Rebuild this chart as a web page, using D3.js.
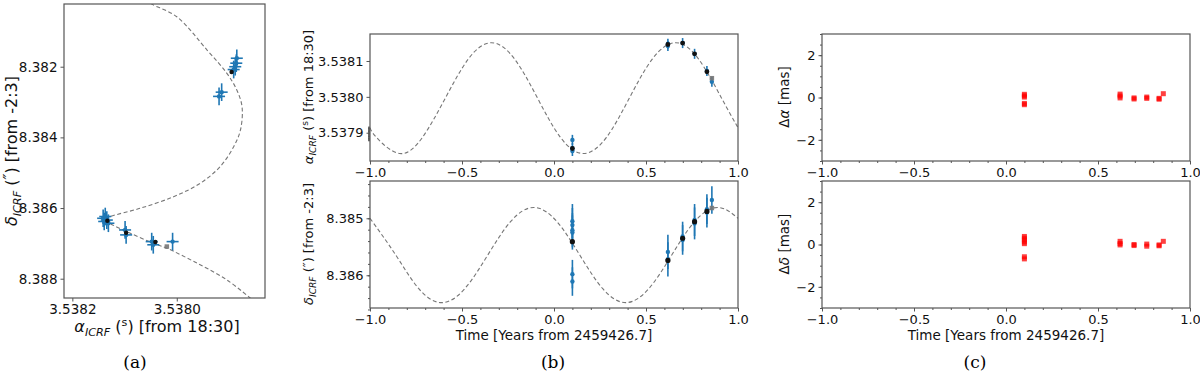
<!DOCTYPE html>
<html>
<head>
<meta charset="utf-8">
<script src="https://cdn.jsdelivr.net/npm/d3@7"></script>
<style>
  body { margin: 0; background: #fff; }
  svg { font-family: "DejaVu Sans", sans-serif; }
  .caption { font-family: "DejaVu Serif", "Liberation Serif", serif; font-size: 17px; }
</style>
</head>
<body>
<svg id="fig" width="1200" height="377"></svg>
<script>
// ---- panel (a): sky track, model curve
var skyCurveRa = [3.538060, 3.538048, 3.538000, 3.537942, 3.537904, 3.537885, 3.537875, 3.537878,
  3.537891, 3.537917, 3.537955, 3.538006, 3.538070, 3.538128, 3.538139, 3.538128, 3.538089,
  3.538045, 3.538019, 3.537961, 3.537904, 3.537855];
var skyCurveDec = [8.380100, 8.380226, 8.380586, 8.381528, 8.382187, 8.382659, 8.383132, 8.383791,
  8.384263, 8.384829, 8.385299, 8.385678, 8.386006, 8.386243, 8.386323, 8.386436, 8.386713,
  8.386996, 8.387137, 8.387562, 8.388034, 8.388600];

// observed positions (blue crosses)
var skyObsRa  = [3.537885, 3.537886, 3.537888, 3.537891, 3.537914, 3.537919,
  3.538141, 3.538137, 3.538134, 3.538131, 3.538139, 3.538099, 3.538097, 3.538048, 3.538045, 3.538008];
var skyObsDec = [8.381760, 8.381900, 8.382000, 8.382080, 8.382720, 8.382840,
  8.386290, 8.386240, 8.386340, 8.386430, 8.386380, 8.386620, 8.386760, 8.386950, 8.387040, 8.386950];
var skyRaErr = 0.0000115;
var skyDecErr = 0.00025;

// model positions at epochs (black) and predicted (grey)
var skyModelRa  = [3.537895, 3.538133, 3.538097, 3.538041];
var skyModelDec = [8.382150, 8.386360, 8.386700, 8.386960];
var skyPredRa  = [3.538019];
var skyPredDec = [8.387090];

// ---- panel (b): time series
var raCurveTime = [-1.0, -0.965, -0.84, -0.715, -0.59, -0.465, -0.34, -0.215, -0.09, 0.035,
  0.16, 0.285, 0.41, 0.535, 0.66, 0.785, 0.91, 1.0];
var raCurve = [3.537914, 3.537887, 3.537842, 3.537887, 3.537997, 3.538106, 3.538151, 3.538106,
  3.537997, 3.537887, 3.537842, 3.537887, 3.537997, 3.538106, 3.538151, 3.538106, 3.537997, 3.537914];

var decCurveTime = [-1.0, -0.86, -0.735, -0.61, -0.485, -0.36, -0.235, -0.11, 0.015, 0.14,
  0.265, 0.39, 0.515, 0.64, 0.765, 0.89, 1.0];
var decCurve = [8.385000, 8.385645, 8.386235, 8.386480, 8.386235, 8.385645, 8.385055, 8.384810,
  8.385055, 8.385645, 8.386235, 8.386480, 8.386235, 8.385645, 8.385055, 8.384810, 8.385000];

var raObsTime = [0.1, 0.1, 0.1, 0.619, 0.619, 0.699, 0.764, 0.831, 0.858];
var raObs = [3.537880, 3.537857, 3.537849, 3.538148, 3.538142, 3.538150, 3.538120, 3.538072, 3.538042];
var raObsErr = 0.000014;

var decObsTime = [0.1, 0.1, 0.1, 0.1, 0.1, 0.1, 0.619, 0.619, 0.699, 0.699, 0.764, 0.764, 0.831, 0.831, 0.858];
var decObs = [8.38505, 8.38512, 8.38521, 8.38525, 8.38598, 8.38611, 8.38559, 8.38572,
  8.38532, 8.38538, 8.38503, 8.38509, 8.38484, 8.38490, 8.38468];
var decObsErr = [0.0003, 0.0003, 0.0003, 0.0003, 0.00025, 0.00025, 0.0003, 0.0003,
  0.00026, 0.00026, 0.00028, 0.00028, 0.00026, 0.00026, 0.00024];

var modelTime = [0.1, 0.619, 0.699, 0.764, 0.831];
var modelRa  = [3.537856, 3.538146, 3.538150, 3.538120, 3.538070];
var modelDec = [8.38541, 8.38574, 8.38535, 8.38506, 8.38488];
var predTime = [0.858];
var predRa = [3.538052];
var predDec = [8.38482];

// ---- panel (c): residuals in mas
var resRaTime = [0.1, 0.1, 0.1, 0.1, 0.1, 0.62, 0.62, 0.62, 0.696, 0.696, 0.765, 0.765, 0.832, 0.832, 0.855];
var resRa = [0.15, 0.08, 0.02, -0.28, -0.34, 0.16, 0.07, -0.02, -0.02, -0.07, 0.02, -0.04, -0.04, -0.08, 0.18];
var resDecTime = [0.1, 0.1, 0.1, 0.1, 0.1, 0.1, 0.1, 0.62, 0.62, 0.62, 0.696, 0.696, 0.765, 0.765, 0.832, 0.832, 0.855];
var resDec = [0.38, 0.30, 0.22, 0.12, 0.04, -0.58, -0.68, 0.15, 0.05, -0.02, 0.0, -0.05, 0.02, -0.08, -0.02, -0.06, 0.15];

// tick values
var timeTicks = [-1.0, -0.5, 0.0, 0.5, 1.0];
var skyRaTicks = [3.5382, 3.5380];
var skyDecTicks = [8.382, 8.384, 8.386, 8.388];
var raTicks = [3.5379, 3.5380, 3.5381];
var decTicks = [8.385, 8.386];
var resTicks = [-2, 0, 2];

var blue = "#1f77b4";
var svg = d3.select("#fig");
var clipCount = 0;
var fmtMinus = function(f) { return function(v) { return d3.format(f)(v).replace("-", "\u2212"); }; };

// draw a clipped group for a panel's marks
function panel(x, y, w, h) {
  var id = "clip" + (clipCount++);
  svg.append("clipPath").attr("id", id)
    .append("rect").attr("x", x).attr("y", y).attr("width", w).attr("height", h);
  return svg.append("g").attr("clip-path", "url(#" + id + ")");
}

function frame(x, y, w, h) {
  svg.append("rect")
    .attr("x", x).attr("y", y).attr("width", w).attr("height", h)
    .attr("fill", "none").attr("stroke", "#555").attr("stroke-width", 1.2);
}

function styleAxis(g, size) {
  g.select(".domain").remove();
  g.selectAll(".tick line").attr("stroke", "#555");
  g.selectAll(".tick text").attr("fill", "#111").style("font-size", size + "px")
    .style("font-family", "'DejaVu Sans', sans-serif");
}

function bottomAxis(scale, y, ticks, fmt, minor, size) {
  if (minor) {
    var ma = svg.append("g").attr("transform", "translate(0," + y + ")")
      .call(d3.axisBottom(scale).tickValues(minor).tickSize(2).tickFormat(""));
    styleAxis(ma, size);
  }
  var a = svg.append("g").attr("transform", "translate(0," + y + ")")
    .call(d3.axisBottom(scale).tickValues(ticks).tickSize(3.5).tickPadding(3).tickFormat(fmt));
  styleAxis(a, size);
}

function leftAxis(scale, x, ticks, fmt, minor, size) {
  if (minor) {
    var ma = svg.append("g").attr("transform", "translate(" + x + ",0)")
      .call(d3.axisLeft(scale).tickValues(minor).tickSize(2).tickFormat(""));
    styleAxis(ma, size);
  }
  var a = svg.append("g").attr("transform", "translate(" + x + ",0)")
    .call(d3.axisLeft(scale).tickValues(ticks).tickSize(3.5).tickPadding(3).tickFormat(fmt));
  styleAxis(a, size);
}

// axis label helpers with italic greek + subscript
function raLabel(t, s) {
  t.append("tspan").attr("font-style", "italic").text("\u03b1");
  t.append("tspan").attr("font-style", "italic").attr("font-size", (s * 0.7) + "px").attr("dy", s * 0.25).text("ICRF");
  t.append("tspan").attr("dy", -s * 0.25).text(" (");
  t.append("tspan").attr("font-size", (s * 0.7) + "px").attr("dy", -s * 0.38).text("s");
  t.append("tspan").attr("dy", s * 0.38).text(") [from 18:30]");
}
function decLabel(t, s) {
  t.append("tspan").attr("font-style", "italic").text("\u03b4");
  t.append("tspan").attr("font-style", "italic").attr("font-size", (s * 0.7) + "px").attr("dy", s * 0.25).text("ICRF");
  t.append("tspan").attr("dy", -s * 0.25).text(" (");
  t.append("tspan").attr("font-style", "italic").attr("dy", -s * 0.1).text("\u2033");
  t.append("tspan").attr("dy", s * 0.1).text(") [from -2:3]");
}
function yLabel(x, y, s, fill) {
  var t = svg.append("text")
    .attr("transform", "translate(" + x + "," + y + ") rotate(-90)")
    .attr("text-anchor", "middle").style("font-size", s + "px").attr("fill", "#111");
  fill(t, s);
}
function xLabel(x, y, s, fill) {
  var t = svg.append("text").attr("x", x).attr("y", y)
    .attr("text-anchor", "middle").style("font-size", s + "px").attr("fill", "#111");
  fill(t, s);
}

function errorCross(g, xs, ys, xErr, yErr) {
  g.selectAll(null).data(xs).enter().append("line")
    .attr("x1", function(d, i) { return xErr(i)[0]; })
    .attr("x2", function(d, i) { return xErr(i)[1]; })
    .attr("y1", function(d, i) { return ys[i]; })
    .attr("y2", function(d, i) { return ys[i]; })
    .attr("stroke", blue).attr("stroke-width", 1.6);
  g.selectAll(null).data(xs).enter().append("line")
    .attr("x1", function(d) { return d; })
    .attr("x2", function(d) { return d; })
    .attr("y1", function(d, i) { return yErr(i)[0]; })
    .attr("y2", function(d, i) { return yErr(i)[1]; })
    .attr("stroke", blue).attr("stroke-width", 1.6);
  g.selectAll(null).data(xs).enter().append("circle")
    .attr("cx", function(d) { return d; })
    .attr("cy", function(d, i) { return ys[i]; })
    .attr("r", 2.2).attr("fill", blue);
}

function dots(g, xs, ys, color, r) {
  g.selectAll(null).data(xs).enter().append("circle")
    .attr("cx", function(d) { return d; })
    .attr("cy", function(d, i) { return ys[i]; })
    .attr("r", r).attr("fill", color);
}
function squares(g, xs, ys, color, s, op) {
  g.selectAll(null).data(xs).enter().append("rect")
    .attr("x", function(d) { return d - s / 2; })
    .attr("y", function(d, i) { return ys[i] - s / 2; })
    .attr("width", s).attr("height", s)
    .attr("fill", color).attr("fill-opacity", op);
}

function dashed(g, pts, curve) {
  g.append("path")
    .attr("d", d3.line().curve(curve)(pts))
    .attr("fill", "none").attr("stroke", "#777").attr("stroke-width", 1.1)
    .attr("stroke-dasharray", "4,2.5");
}

// ================= panel (a)
var ax = {x: 64, y: 4, w: 201, h: 294};
var aX = d3.scaleLinear().domain([3.538216, 3.537831]).range([ax.x, ax.x + ax.w]);
var aY = d3.scaleLinear().domain([8.380225, 8.388546]).range([ax.y, ax.y + ax.h]);
var ga = panel(ax.x, ax.y, ax.w, ax.h);
dashed(ga, skyCurveRa.map(function(d, i) { return [aX(d), aY(skyCurveDec[i])]; }), d3.curveCatmullRom);
errorCross(ga, skyObsRa.map(aX), skyObsDec.map(aY),
  function(i) { return [aX(skyObsRa[i] + skyRaErr), aX(skyObsRa[i] - skyRaErr)]; },
  function(i) { return [aY(skyObsDec[i] - skyDecErr), aY(skyObsDec[i] + skyDecErr)]; });
dots(ga, skyModelRa.map(aX), skyModelDec.map(aY), "#111", 2.2);
squares(ga, skyPredRa.map(aX), skyPredDec.map(aY), "#777", 4.5, 0.9);
frame(ax.x, ax.y, ax.w, ax.h);
leftAxis(aY, ax.x, skyDecTicks, d3.format(".3f"), null, 13.5);
bottomAxis(aX, ax.y + ax.h, skyRaTicks, d3.format(".4f"), null, 13.5);
xLabel(157, 332, 16, raLabel);
yLabel(17, 151, 16, decLabel);

// ================= panel (b)
var bx = 370, bw = 368;
var bX = d3.scaleLinear().domain([-1, 1]).range([bx, bx + bw]);
var minorT = d3.range(-10, 11).map(function(d) { return d / 10; });

// top: right ascension
var bt = {y: 34, h: 127};
var bY1 = d3.scaleLinear().domain([3.5378211, 3.5381753]).range([bt.y + bt.h, bt.y]);
var gb1 = panel(bx, bt.y, bw, bt.h);
dashed(gb1, raCurveTime.map(function(d, i) { return [bX(d), bY1(raCurve[i])]; }), d3.curveNatural);
errorCross(gb1, raObsTime.map(bX), raObs.map(bY1),
  function(i) { return [bX(raObsTime[i]), bX(raObsTime[i])]; },
  function(i) { return [bY1(raObs[i] + raObsErr), bY1(raObs[i] - raObsErr)]; });
dots(gb1, modelTime.map(bX), modelRa.map(bY1), "#111", 2.4);
squares(gb1, predTime.map(bX), predRa.map(bY1), "#777", 4.5, 0.9);
frame(bx, bt.y, bw, bt.h);
leftAxis(bY1, bx, raTicks, d3.format(".4f"), d3.range(37879, 37918, 2).map(function(d) { return 3.5 + d / 1e6; }), 13);
bottomAxis(bX, bt.y + bt.h, timeTicks, fmtMinus(".1f"), minorT, 13);
yLabel(313, 97, 13, raLabel);

// bottom: declination
var bb = {y: 181, h: 127};
var bY2 = d3.scaleLinear().domain([8.384346, 8.386574]).range([bb.y, bb.y + bb.h]);
var gb2 = panel(bx, bb.y, bw, bb.h);
dashed(gb2, decCurveTime.map(function(d, i) { return [bX(d), bY2(decCurve[i])]; }), d3.curveNatural);
errorCross(gb2, decObsTime.map(bX), decObs.map(bY2),
  function(i) { return [bX(decObsTime[i]), bX(decObsTime[i])]; },
  function(i) { return [bY2(decObs[i] - decObsErr[i]), bY2(decObs[i] + decObsErr[i])]; });
dots(gb2, modelTime.map(bX), modelDec.map(bY2), "#111", 2.6);
squares(gb2, predTime.map(bX), predDec.map(bY2), "#777", 4.5, 0.9);
frame(bx, bb.y, bw, bb.h);
leftAxis(bY2, bx, decTicks, d3.format(".3f"), d3.range(8384.4, 8386.6, 0.2).map(function(d) { return d / 1000; }), 13);
bottomAxis(bX, bb.y + bb.h, timeTicks, fmtMinus(".1f"), minorT, 13);
yLabel(313, 244, 13, decLabel);
xLabel(bx + bw / 2, 340, 13.5, function(t) { t.text("Time [Years from 2459426.7]"); });

// ================= panel (c)
var cx = 822, cw = 368;
var cX = d3.scaleLinear().domain([-1, 1]).range([cx, cx + cw]);
var minorR = d3.range(-3, 3.01, 0.5);

var gc1 = panel(cx, bt.y, cw, bt.h);
var cY1 = d3.scaleLinear().domain([-3, 3]).range([bt.y + bt.h, bt.y]);
squares(gc1, resRaTime.map(cX), resRa.map(cY1), "#ff0000", 5, 0.75);
frame(cx, bt.y, cw, bt.h);
leftAxis(cY1, cx, resTicks, fmtMinus("d"), minorR, 13);
bottomAxis(cX, bt.y + bt.h, timeTicks, fmtMinus(".1f"), minorT, 13);
yLabel(789, 97, 13.5, function(t) {
  t.append("tspan").text("\u0394");
  t.append("tspan").attr("font-style", "italic").text("\u03b1");
  t.append("tspan").text(" [mas]");
});

var gc2 = panel(cx, bb.y, cw, bb.h);
var cY2 = d3.scaleLinear().domain([-3, 3]).range([bb.y + bb.h, bb.y]);
squares(gc2, resDecTime.map(cX), resDec.map(cY2), "#ff0000", 5, 0.75);
frame(cx, bb.y, cw, bb.h);
leftAxis(cY2, cx, resTicks, fmtMinus("d"), minorR, 13);
bottomAxis(cX, bb.y + bb.h, timeTicks, fmtMinus(".1f"), minorT, 13);
yLabel(789, 244, 13.5, function(t) {
  t.append("tspan").text("\u0394");
  t.append("tspan").attr("font-style", "italic").text("\u03b4");
  t.append("tspan").text(" [mas]");
});
xLabel(cx + cw / 2, 340, 13.5, function(t) { t.text("Time [Years from 2459426.7]"); });

// captions
[["(a)", 135], ["(b)", 553], ["(c)", 975]].forEach(function(c) {
  svg.append("text").attr("class", "caption").attr("x", c[1]).attr("y", 368)
    .attr("text-anchor", "middle").text(c[0]);
});
</script>
</body>
</html>
